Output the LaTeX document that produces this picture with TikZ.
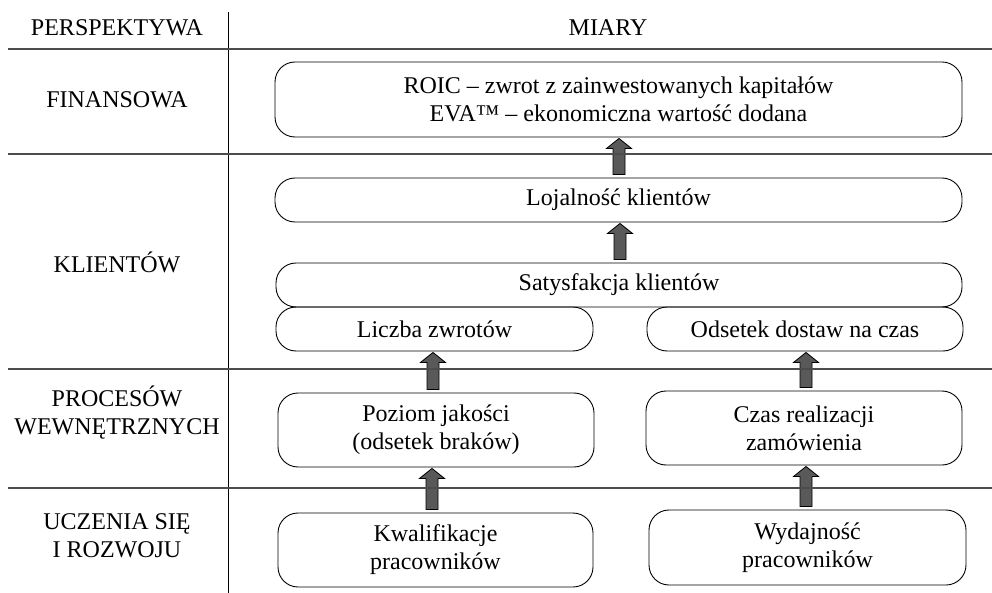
\documentclass[tikz,border=0pt]{standalone}
\usepackage{fontspec}
\setmainfont{Liberation Serif}
\usetikzlibrary{positioning,calc}

\tikzset{
  miara/.style={draw, rounded corners=20pt, align=center, inner sep=0pt, line width=0.9pt,
    font=\fontsize{24}{28}\selectfont},
  etykieta/.style={align=center, font=\fontsize{24}{28}\selectfont},
  strzalka/.style={draw=black, line width=0.8pt, fill=black!65},
  linia/.style={line width=1.3pt, black!70}
}

% strzalka blokowa: #1 = x, #2 = dolny wezel, #3 = gorny wezel
\newcommand{\blokstrzalka}[3]{%
  \path (#2.north -| #1,0) coordinate (ogon) (#3.south -| #1,0) coordinate (grot);
  \draw[strzalka] let \p1=(ogon), \p2=(grot) in
    (\x1-6pt,\y1+3pt) -- (\x1-6pt,\y2-11pt) -- (\x1-12.5pt,\y2-11pt) -- (\x2,\y2-1pt)
    -- (\x1+12.5pt,\y2-11pt) -- (\x1+6pt,\y2-11pt) -- (\x1+6pt,\y1+3pt) -- cycle;
}

\begin{document}
\begin{tikzpicture}[x=1pt,y=-1pt]
  \useasboundingbox (0,0) rectangle (992,593);

  \node[etykieta] (persp) at (117,28) {PERSPEKTYWA};
  \node[etykieta] (miary) at (608,28) {MIARY};
  \node[etykieta] (fin) at (117,100) {FINANSOWA};
  \node[etykieta] (kli) at (117,262) {KLIENTÓW};
  \node[etykieta] (proc) at (117,413) {PROCESÓW\\WEWNĘTRZNYCH};
  \node[etykieta] (ucz) at (117,536) {UCZENIA SIĘ\\I ROZWOJU};

  \node[miara, minimum width=687pt, minimum height=75pt] (roic) at (618.5,99.5)
    {ROIC – zwrot z zainwestowanych kapitałów\\EVA™ – ekonomiczna wartość dodana};
  \node[miara, minimum width=687pt, minimum height=44pt] (loj) at (618.5,200) {Lojalność klientów};
  \node[miara, minimum width=686pt, minimum height=44pt] (satys) at (619,285) {Satysfakcja klientów};
  \node[miara, minimum width=317pt, minimum height=44pt] (zwroty) at (434.5,329) {Liczba zwrotów};
  \node[miara, minimum width=316pt, minimum height=44pt] (dostawy) at (805,329) {Odsetek dostaw na czas};
  \node[miara, minimum width=316pt, minimum height=74pt] (jakosc) at (436,430)
    {Poziom jakości\\(odsetek braków)};
  \node[miara, minimum width=316pt, minimum height=74pt] (czas) at (804,428)
    {Czas realizacji\\zamówienia};
  \node[miara, minimum width=315pt, minimum height=74pt] (kwal) at (435.5,550)
    {Kwalifikacje\\pracowników};
  \node[miara, minimum width=317pt, minimum height=75pt] (wyd) at (807.5,547.5)
    {Wydajność\\pracowników};

  \blokstrzalka{619}{loj}{roic}
  \blokstrzalka{620}{satys}{loj}
  \blokstrzalka{433}{jakosc}{zwroty}
  \blokstrzalka{806}{czas}{dostawy}
  \blokstrzalka{432}{kwal}{jakosc}
  \blokstrzalka{806}{wyd}{czas}

  \coordinate (gora) at (228,12);
  \coordinate (dol) at (228,593);
  \draw[line width=1pt] (gora) -- (dol);
  \foreach \y in {49,154,369,488}
    \draw[linia] (8,\y) -- (992,\y);
\end{tikzpicture}
\end{document}
